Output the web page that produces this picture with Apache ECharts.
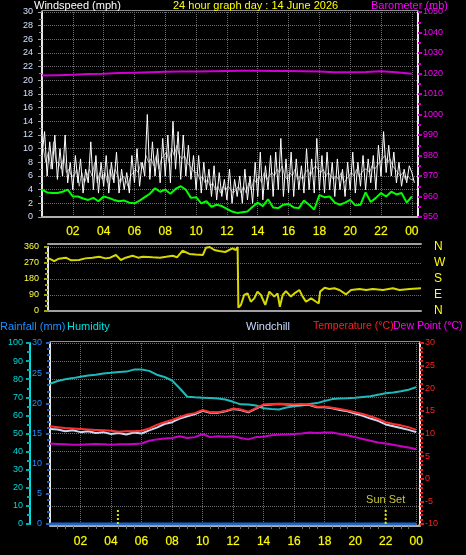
<!DOCTYPE html>
<html><head><meta charset="utf-8">
<script src="https://cdn.jsdelivr.net/npm/echarts/dist/echarts.min.js"></script>
<style>html,body{margin:0;padding:0;background:#000}#c{width:466px;height:555px}</style>
</head><body><div id="c"></div>
<script>
// ---------- DATA ----------
// Wind gust (mph), 10-minute samples starting at 00:00
const gustStepHours = 1 / 6;
const gustValues = [
  9, 12.5, 6, 11, 7, 12,
  5.5, 10, 6, 12, 5, 8,
  4, 9, 5, 8.5, 3.5, 7,
  5, 11, 4, 9, 3.5, 8,
  4.5, 9, 3.5, 8, 5, 9.5,
  3.5, 7, 4, 6.5, 3.5, 9,
  5, 10, 4.5, 8, 6, 15,
  5.5, 11, 6, 10, 5, 11.5,
  6, 12, 5, 14, 7, 12.5,
  5.5, 12, 6, 10.5, 5.5, 9,
  4, 9, 3.5, 8, 4, 7,
  3, 7.5, 2.5, 6.5, 3, 5.5,
  2.5, 7, 2, 5.5, 3, 6,
  2, 7, 2.5, 6, 2, 8,
  3, 9.5, 2.5, 7.5, 4, 9,
  3, 9.5, 4, 11.5, 3, 8.5,
  3.5, 9.5, 3, 8.5, 4, 7.5,
  3.5, 10, 4, 8.5, 3.5, 11.5,
  4, 9, 3.5, 9.5, 4, 8,
  3, 8.5, 4, 7, 3, 8,
  4, 9.5, 3.5, 8, 4.5, 9,
  4, 8.5, 5, 9, 4, 10.5,
  6, 12.5, 6.5, 10.5, 6, 9.5,
  5, 8, 4.5, 7, 5, 7.5,
  6.5, 5
];
// Wind speed samples (mph), 10-minute samples offset by 5 minutes
const speedStepHours = 1 / 6;
const speedOffsetHours = 1 / 12;
const speedValues = [
  10, 8, 9.5, 7, 11, 8,
  8, 7, 9, 6.5, 7, 6,
  6, 7, 4.5, 6.5, 5, 6,
  7, 6, 8, 5, 6.5, 5.5,
  6.5, 5, 7, 5.5, 7, 6,
  5, 6, 5.5, 4.5, 6, 6.5,
  7, 6.5, 8, 7, 9, 8,
  8.5, 7.5, 9, 7, 8.5, 9,
  9.5, 8, 10, 9, 10.5, 9,
  8.5, 9, 8, 7.5, 7, 6.5,
  6.5, 5.5, 6, 5, 5.5, 4.5,
  5, 4, 4.5, 3.5, 4.5, 4,
  4.5, 4, 3.5, 4, 4.5, 3.5,
  4.5, 3.5, 5, 4, 5.5, 5,
  6, 5, 6.5, 5.5, 6, 6.5,
  6, 7, 6.5, 7.5, 6, 5.5,
  6.5, 6, 7, 5.5, 6, 5.5,
  6.5, 7, 6, 7, 7.5, 7,
  6.5, 7, 6, 6.5, 6, 5.5,
  6, 5.5, 6.5, 5, 5.5, 6,
  6.5, 6, 7, 6, 6.5, 7,
  7, 6.5, 7.5, 7, 7.5, 8,
  8.5, 9, 8, 8.5, 7.5, 7,
  6.5, 6, 6.5, 5.5, 6, 5.5,
  5.5
];
// Average wind speed (mph), 20-minute samples
const avgStepHours = 1 / 3;
const avgValues = [
  4.0, 3.6, 3.5, 3.5, 3.7, 4.0, 3.0, 3.0, 2.7, 2.5, 2.8, 2.3,
  3.0, 2.8, 2.5, 2.3, 2.4, 2.1, 2.0, 2.4, 2.9, 3.4, 4.2, 3.7,
  4.0, 3.4, 4.1, 4.5, 4.0, 2.8, 2.9, 2.0, 2.3, 1.5, 1.8, 1.6,
  1.2, 0.8, 0.6, 0.7, 0.8, 1.5, 2.1, 1.6, 2.6, 1.4, 1.3, 1.8,
  1.9, 1.4, 1.3, 2.4, 1.8, 1.1, 3.2, 2.9, 3.0, 2.1, 1.8, 2.1,
  2.5, 1.7, 1.8, 3.6, 2.2, 2.8, 3.5, 3.0, 3.7, 3.3, 3.5, 2.1,
  3.0
];
// Barometer (mb), hourly
const baroStepHours = 1;
const baroValues = [
  1019.0, 1019.2, 1019.4, 1019.7, 1019.9, 1020.2, 1020.4, 1020.6, 1020.8, 1021.0,
  1021.0, 1021.1, 1021.2, 1021.3, 1021.3, 1021.2, 1021.2, 1021.1, 1021.0, 1020.6,
  1020.6, 1020.7, 1021.1, 1020.6, 1019.9
];
// Wind direction (degrees)
const dirTimes = [
  0.06, 0.4, 0.7, 1.14, 1.5, 2.0, 2.4, 2.86, 3.29, 3.7, 4.0, 4.37, 4.69, 5.0, 5.44, 5.8,
  6.1, 6.73, 7.2, 7.6, 8.02, 8.3, 8.66, 9.1, 9.5, 9.96, 10.17, 10.4, 10.7, 11.0, 11.4,
  11.87, 12.08, 12.2, 12.25, 12.41, 12.62, 12.84, 13.05, 13.27, 13.48, 13.7, 13.98,
  14.24, 14.56, 14.77, 14.92, 15.1, 15.31, 15.63, 15.85, 16.17, 16.39, 16.6, 16.93,
  17.25, 17.42, 17.51, 17.8, 18.1, 18.43, 18.75, 19.18, 19.5, 20.04, 20.47, 20.9,
  21.55, 22.19, 22.62, 23.27, 24.0
];
const dirValues = [
  296, 280, 294, 300, 285, 287, 296, 300, 305, 296, 300, 315, 287, 300, 311, 300,
  305, 302, 300, 305, 311, 302, 339, 321, 318, 315, 356, 360, 343, 338, 332,
  352, 343, 360, 19, 34, 90, 99, 52, 71, 109, 90, 34,
  109, 81, 99, 24, 90, 112, 81, 99, 118, 81, 52, 71,
  52, 43, 109, 131, 124, 128, 118, 94, 118, 124, 118, 124,
  118, 128, 118, 124, 128
];
// Bottom panel, half-hourly samples
const bottomStepHours = 0.5;
const humidityValues = [
  77.5, 79.0, 80.0, 80.6, 81.3, 82.0, 82.5, 83.1, 83.5, 84.0, 84.2, 85.3, 85.3, 84.6,
  82.5, 81.2, 79.3, 75.0, 70.3, 70.0, 69.8, 69.6, 69.4, 68.8, 67.5, 66.1, 66.0, 65.5,
  63.9, 63.5, 63.3, 64.4, 65.0, 65.5, 66.3, 66.8, 68.0, 69.0, 69.3, 69.5, 69.8, 70.2,
  70.6, 71.4, 72.2, 72.7, 73.4, 74.2, 75.6
];
const temperatureValues = [
  11.6, 11.4, 11.2, 11.1, 11.0, 10.9, 10.8, 10.7, 10.6, 10.4, 10.5, 10.5, 10.6, 11.1,
  11.9, 12.5, 13.0, 13.6, 14.2, 14.5, 15.2, 14.7, 14.7, 15.0, 15.5, 15.3, 14.8, 15.6,
  16.4, 16.5, 16.6, 16.5, 16.4, 16.5, 16.4, 15.9, 15.9, 15.7, 15.4, 15.1, 14.7, 14.3,
  13.8, 13.2, 12.5, 12.1, 11.8, 11.4, 10.8
];
const windchillValues = [
  11.0, 10.9, 10.5, 10.7, 10.3, 10.5, 10.1, 10.3, 9.9, 10.1, 9.8, 10.2, 10.0, 10.7,
  11.3, 12.1, 12.5, 13.3, 13.8, 14.3, 15.0, 14.6, 14.6, 14.9, 15.4, 15.2, 14.7, 15.5,
  16.3, 16.4, 16.5, 16.4, 16.3, 16.4, 16.3, 15.8, 15.8, 15.6, 15.2, 14.9, 14.4, 13.9,
  13.3, 12.8, 12.0, 11.6, 11.2, 10.8, 10.3
];
const dewPointValues = [
  7.8, 7.7, 7.6, 7.5, 7.5, 7.6, 7.7, 7.6, 7.5, 7.6, 7.6, 7.7, 7.8, 8.4,
  8.7, 8.9, 9.0, 9.4, 9.0, 9.2, 9.9, 9.2, 9.4, 9.3, 9.4, 9.0, 8.7, 9.2,
  9.3, 9.6, 9.7, 9.8, 9.9, 10.0, 10.2, 10.1, 10.2, 10.2, 9.9, 9.6, 9.2, 8.8,
  8.4, 8.0, 7.8, 7.5, 7.2, 6.9, 6.5
];
// Rainfall (mm), hourly
const rainStepHours = 1;
const rainValues = [0,0,0,0,0,0,0,0,0,0,0,0,0,0,0,0,0,0,0,0,0,0,0,0,0];
// Sun markers (hours) and marker height (humidity units)
const sunriseHour = 4.45;
const sunsetHour = 22.0;
const sunMarkerHeight = 8.5;
// Compass labels
const compassLabels = {0: 'N', 90: 'E', 180: 'S', 270: 'W', 360: 'N'};

// ---------- BUILD ----------
const stepSeries = (vals, step, off) => vals.map((v, i) => [(off || 0) + i * step, v]);
const pairSeries = (ts, vs) => ts.map((t, i) => [t, vs[i]]);

function hourLabel(v) {
  if (Math.abs(v - Math.round(v)) > 1e-6) return '';
  const h = Math.round(v);
  if (h === 0 || h % 2) return '';
  return String(h % 24).padStart(2, '0');
}
const plain = v => String(v);

const FONT = 'Liberation Sans, Arial, sans-serif';
const dotted = () => ({show: true, lineStyle: {color: '#6a6a6a', type: 'dotted', width: 1}});
const line = (color, width) => ({show: true, onZero: false, lineStyle: {color: color, width: width}});
const xLabel = (margin) => ({color: '#ffff00', fontSize: 12, fontFamily: FONT, formatter: hourLabel, margin: margin,
  textBorderColor: '#6a6a00', textBorderWidth: 0.6});
const ttl = (text, left, top, color, size) => ({text: text, left: left, top: top, padding: 0,
  textStyle: {color: color, fontSize: size || 11, fontWeight: 'normal', fontFamily: FONT}});

const option = {
  backgroundColor: '#000',
  animation: false,
  title: [
    ttl('Windspeed (mph)', 34, 0, '#ffffff'),
    ttl('24 hour graph day : 14 June 2026', 173, 0, '#ffff00'),
    ttl('Barometer (mb)', 371, 0, '#ff00ff'),
    ttl('Rainfall (mm)', 0, 321, '#1e90ff'),
    ttl('Humidity', 67, 321, '#00e0e0'),
    ttl('Windchill', 246, 321, '#c8dcff'),
    ttl('Temperature (°C)', 313, 321, '#ff2020', 10.5),
    ttl('Dew Point (°C)', 393, 321, '#ff00ff', 10.5)
  ],
  grid: [
    {left: 42, right: 48, top: 12, height: 205},
    {left: 48, right: 45, top: 247, height: 64},
    {left: 50, right: 46, top: 343, height: 181}
  ],
  xAxis: [
    {gridIndex: 0, type: 'value', min: 0, max: 24.4, interval: 2, position: 'bottom',
      axisLine: line('#b0b0b0', 2), axisTick: {show: false},
      axisLabel: xLabel(9), splitLine: dotted()},
    {gridIndex: 0, type: 'value', min: 0, max: 24.4, position: 'top', offset: 2,
      axisLine: line('#909090', 1), axisTick: {show: false}, axisLabel: {show: false}, splitLine: {show: false}},
    {gridIndex: 1, type: 'value', min: 0, max: 24, position: 'bottom',
      axisLine: line('#a0a0a0', 2), axisTick: {show: false}, axisLabel: {show: false}, splitLine: {show: false}},
    {gridIndex: 1, type: 'value', min: 0, max: 24, position: 'top', offset: 3,
      axisLine: line('#a0a0a0', 2), axisTick: {show: false}, axisLabel: {show: false}, splitLine: {show: false}},
    {gridIndex: 2, type: 'value', min: 0, max: 24.25, interval: 2, position: 'bottom', offset: 2,
      axisLine: line('#b0b0b0', 2),
      axisTick: {show: false}, minorTick: {show: true, splitNumber: 4, length: 3, lineStyle: {color: '#707070'}},
      axisLabel: xLabel(10), splitLine: dotted()},
    {gridIndex: 2, type: 'value', min: 0, max: 24.25, position: 'top', offset: 2,
      axisLine: line('#909090', 1), axisTick: {show: false}, axisLabel: {show: false}, splitLine: {show: false}}
  ],
  yAxis: [
    {gridIndex: 0, type: 'value', min: 0, max: 30, interval: 2, position: 'left',
      axisLine: line('#e8e8e8', 2),
      axisTick: {show: true, length: 4, lineStyle: {color: '#a0a0a0'}},
      minorTick: {show: true, splitNumber: 2, length: 3, lineStyle: {color: '#808080'}},
      axisLabel: {color: '#d0e0ff', fontSize: 9, fontFamily: FONT, margin: 9}, splitLine: dotted()},
    {gridIndex: 0, type: 'value', min: 950, max: 1050, interval: 10, position: 'right',
      axisLine: line('#e8e8e8', 2),
      axisTick: {show: true, length: 4, lineStyle: {color: '#c000c0', width: 2}},
      minorTick: {show: true, splitNumber: 2, length: 3, lineStyle: {color: '#c000c0', width: 2}},
      axisLabel: {color: '#ff00ff', fontSize: 9, fontFamily: FONT, margin: 5, formatter: plain}, splitLine: {show: false}},
    {gridIndex: 1, type: 'value', min: 0, max: 360, interval: 90, position: 'left',
      axisLine: line('#e8e8e8', 2),
      axisTick: {show: true, length: 4, lineStyle: {color: '#a0a000', width: 2}},
      minorTick: {show: true, splitNumber: 3, length: 3, lineStyle: {color: '#a0a000', width: 2}},
      axisLabel: {color: '#ffff40', fontSize: 9, fontFamily: FONT, margin: 9}, splitLine: dotted()},
    {gridIndex: 1, type: 'value', min: 0, max: 360, interval: 90, position: 'right',
      axisLine: {show: false, onZero: false}, axisTick: {show: false}, splitLine: {show: false},
      axisLabel: {color: '#ffff00', fontSize: 12, fontFamily: FONT, margin: 13, formatter: v => compassLabels[v] || ''}},
    {gridIndex: 2, type: 'value', min: 0, max: 30, interval: 5, position: 'left', offset: 0,
      axisLine: line('#e8e8e8', 2),
      axisTick: {show: true, length: 4, lineStyle: {color: '#1e64c8', width: 2}},
      minorTick: {show: true, splitNumber: 5, length: 3, lineStyle: {color: '#1e64c8', width: 2}},
      axisLabel: {color: '#1e90ff', fontSize: 9, fontFamily: FONT, margin: 8}, splitLine: {show: false}},
    {gridIndex: 2, type: 'value', min: 0, max: 100, interval: 10, position: 'left', offset: 20,
      axisLine: line('#00e0e0', 2),
      axisTick: {show: true, length: 4, lineStyle: {color: '#00b0b0', width: 2}},
      minorTick: {show: true, splitNumber: 2, length: 3, lineStyle: {color: '#00b0b0', width: 2}},
      axisLabel: {color: '#00d8d8', fontSize: 9, fontFamily: FONT, margin: 7}, splitLine: dotted()},
    {gridIndex: 2, type: 'value', min: -10, max: 30, interval: 5, position: 'right',
      axisLine: line('#e8e8e8', 2),
      axisTick: {show: true, length: 4, lineStyle: {color: '#e02020', width: 2}},
      minorTick: {show: true, splitNumber: 5, length: 3, lineStyle: {color: '#e02020', width: 2}},
      axisLabel: {color: '#ff2020', fontSize: 9, fontFamily: FONT, margin: 5}, splitLine: {show: false}}
  ],
  series: [
    {name: 'Wind speed', type: 'line', xAxisIndex: 0, yAxisIndex: 0, showSymbol: false,
      data: stepSeries(speedValues, speedStepHours, speedOffsetHours), lineStyle: {color: '#a8a8a8', width: 1}},
    {name: 'Gust', type: 'line', xAxisIndex: 0, yAxisIndex: 0, showSymbol: false,
      data: stepSeries(gustValues, gustStepHours), lineStyle: {color: '#ffffff', width: 1}},
    {name: 'Average', type: 'line', xAxisIndex: 0, yAxisIndex: 0, showSymbol: false,
      data: stepSeries(avgValues, avgStepHours), lineStyle: {color: '#00ff00', width: 2}},
    {name: 'Barometer', type: 'line', xAxisIndex: 0, yAxisIndex: 1, showSymbol: false,
      data: stepSeries(baroValues, baroStepHours), lineStyle: {color: '#d000d0', width: 2}},
    {name: 'Direction', type: 'line', xAxisIndex: 2, yAxisIndex: 2, showSymbol: false,
      data: pairSeries(dirTimes, dirValues), lineStyle: {color: '#d8d800', width: 2}},
    {name: 'Humidity', type: 'line', xAxisIndex: 4, yAxisIndex: 5, showSymbol: false,
      data: stepSeries(humidityValues, bottomStepHours), lineStyle: {color: '#20b8b8', width: 2}},
    {name: 'Windchill', type: 'line', xAxisIndex: 4, yAxisIndex: 6, showSymbol: false,
      data: stepSeries(windchillValues, bottomStepHours), lineStyle: {color: '#c8d8f0', width: 2}},
    {name: 'Temperature', type: 'line', xAxisIndex: 4, yAxisIndex: 6, showSymbol: false,
      data: stepSeries(temperatureValues, bottomStepHours), lineStyle: {color: '#ff3030', width: 2}},
    {name: 'Dew Point', type: 'line', xAxisIndex: 4, yAxisIndex: 6, showSymbol: false,
      data: stepSeries(dewPointValues, bottomStepHours), lineStyle: {color: '#c800c8', width: 2}},
    {name: 'Rainfall', type: 'line', xAxisIndex: 4, yAxisIndex: 4, showSymbol: false,
      data: stepSeries(rainValues, rainStepHours), lineStyle: {color: '#1e64c8', width: 3}},
    {name: 'Sun Rise', type: 'line', xAxisIndex: 4, yAxisIndex: 5, symbol: 'none',
      data: [[sunriseHour, 0], [sunriseHour, sunMarkerHeight]], lineStyle: {color: '#e0e000', width: 2, type: 'dotted'}},
    {name: 'Sun Set', type: 'line', xAxisIndex: 4, yAxisIndex: 5, symbol: 'circle', symbolSize: 0, showSymbol: true,
      data: [[sunsetHour, 0], {value: [sunsetHour, sunMarkerHeight],
        label: {show: true, position: 'top', distance: 3, formatter: 'Sun Set', color: '#c8c83c', fontSize: 11, fontFamily: FONT}}],
      lineStyle: {color: '#e0e000', width: 2, type: 'dotted'}}
  ]
};

const chart = echarts.init(document.getElementById('c'), null, {renderer: 'canvas'});
chart.setOption(option);
</script>
</body></html>
